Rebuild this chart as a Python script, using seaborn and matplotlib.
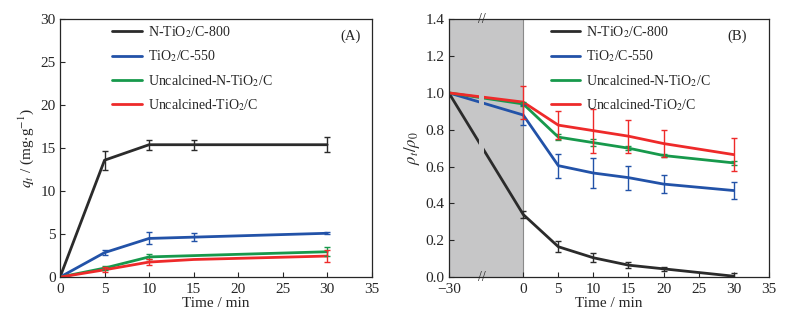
import numpy as np
import pandas as pd
import matplotlib
matplotlib.use("Agg")
import matplotlib.pyplot as plt
import matplotlib.transforms as mtransforms
import seaborn as sns

sns.set_style("ticks")
plt.rcParams.update({
    "font.family": ["Liberation Serif", "DejaVu Serif"],
    "mathtext.fontset": "stix",
    "font.size": 10.5,
    "axes.linewidth": 0.9,
    "xtick.direction": "in",
    "ytick.direction": "in",
    "xtick.major.size": 3.5,
    "ytick.major.size": 3.5,
})

SERIES = ["N-TiO$_2$/C-800", "TiO$_2$/C-550",
          "Uncalcined-N-TiO$_2$/C", "Uncalcined-TiO$_2$/C"]
COLORS = ["#2b2b2b", "#2252a8", "#17994c", "#ee2a2a"]
palette = dict(zip(SERIES, COLORS))

# (A) adsorption capacity
time_a = [0, 5, 10, 15, 30]
qt_black = [0, 13.6, 15.4, 15.4, 15.4]
qt_blue = [0, 2.85, 4.5, 4.65, 5.1]
qt_green = [0, 1.05, 2.35, 2.5, 2.95]
qt_red = [0, 0.85, 1.75, 2.05, 2.45]
qt_err_black = [0, 1.1, 0.6, 0.6, 0.9]
qt_err_blue = [0, 0.25, 0.7, 0.45, 0.1]
qt_err_green = [0, 0.2, 0.3, 0.0, 0.5]
qt_err_red = [0, 0.3, 0.3, 0.0, 0.7]

# (B) relative concentration
time_b = [-30, 0, 5, 10, 15, 20, 30]
rho_black = [1.0, 0.34, 0.165, 0.105, 0.065, 0.045, 0.005]
rho_blue = [1.0, 0.88, 0.605, 0.565, 0.54, 0.505, 0.47]
rho_green = [1.0, 0.94, 0.76, 0.73, 0.70, 0.66, 0.62]
rho_red = [1.0, 0.95, 0.825, 0.795, 0.765, 0.725, 0.665]
rho_err_black = [0, 0.02, 0.03, 0.025, 0.015, 0.012, 0.02]
rho_err_blue = [0, 0.055, 0.065, 0.08, 0.065, 0.05, 0.045]
rho_err_green = [0, 0.01, 0.015, 0.02, 0.01, 0.01, 0.01]
rho_err_red = [0, 0.09, 0.075, 0.12, 0.09, 0.075, 0.09]


def long_frame(x, ys, errs):
    rows = []
    for name, y, e in zip(SERIES, ys, errs):
        for xi, yi, ei in zip(x, y, e):
            rows.append({"time": xi, "value": yi, "err": ei, "series": name})
    return pd.DataFrame(rows)


df_a = long_frame(time_a, [qt_black, qt_blue, qt_green, qt_red],
                  [qt_err_black, qt_err_blue, qt_err_green, qt_err_red])
df_b = long_frame(time_b, [rho_black, rho_blue, rho_green, rho_red],
                  [rho_err_black, rho_err_blue, rho_err_green, rho_err_red])

fig = plt.figure(figsize=(7.93, 3.2), dpi=100)
ax_a = fig.add_axes([0.0757, 0.134, 0.393, 0.806])
ax_b = fig.add_axes([0.566, 0.134, 0.4035, 0.806])

# compressed dark period on the right panel
K = 10.6 / 30.0


def fwd(x):
    x = np.asarray(x, dtype=float)
    return np.where(x < 0, x * K, x)


def inv(x):
    x = np.asarray(x, dtype=float)
    return np.where(x < 0, x / K, x)


ax_b.set_xscale("function", functions=(fwd, inv))
ax_b.axvspan(-30, 0, color="#c6c6c7", zorder=0, lw=0)
ax_b.axvline(0, color="#8a8a8a", lw=0.8, zorder=0.5)

for ax, df in [(ax_a, df_a), (ax_b, df_b)]:
    sns.lineplot(data=df, x="time", y="value", hue="series", hue_order=SERIES,
                 palette=palette, lw=2.0, ax=ax, zorder=3)
    for name in SERIES:
        sub = df[df["series"] == name]
        sub = sub[sub["err"] > 0]
        ax.errorbar(sub["time"], sub["value"], yerr=sub["err"], fmt="none",
                    ecolor=palette[name], elinewidth=1.0, capsize=2.5,
                    capthick=1.0, zorder=4)
    ax.legend(loc="upper left",
              bbox_to_anchor=(0.128, 1.03) if ax is ax_a else (0.28, 1.03),
              frameon=False, handlelength=2.1, labelspacing=0.62,
              handletextpad=0.45, fontsize=10)
    ax.set_xlabel("Time / min", labelpad=1, fontsize=11)

# gap in the lines at the axis break
ax_b.fill_between([-17.7, -15.7], 0.5, 1.08, color="#c6c6c7", lw=0, zorder=5)
tr = mtransforms.blended_transform_factory(ax_b.transData, ax_b.transAxes)
for yy in (0, 1):
    ax_b.text(-16.7, yy, "//", transform=tr, ha="center", va="center",
              fontsize=10, zorder=10, clip_on=False)

ax_a.set_xlim(0, 35)
ax_a.set_ylim(0, 30)
ax_a.set_xticks(range(0, 36, 5))
ax_a.set_yticks(range(0, 31, 5))
ax_a.set_ylabel("$q_t$ / (mg$\\cdot$g$^{-1}$)", labelpad=3, fontsize=11)
ax_a.text(0.965, 0.935, "(A)", transform=ax_a.transAxes, ha="right", va="center")

ax_b.set_xlim(-30, 35)
ax_b.set_ylim(0, 1.4)
ax_b.set_xticks([-30, 0, 5, 10, 15, 20, 25, 30, 35])
ax_b.set_xticklabels(["\u221230", "0", "5", "10", "15", "20", "25", "30", "35"])
ax_b.set_yticks(np.arange(0, 1.41, 0.2))
ax_b.set_yticklabels([f"{v:.1f}" for v in np.arange(0, 1.41, 0.2)])
ax_b.set_ylabel("$\\rho_t/\\rho_0$", labelpad=3, fontsize=12)
ax_b.text(0.93, 0.935, "(B)", transform=ax_b.transAxes, ha="right", va="center")

for ax in (ax_a, ax_b):
    ax.tick_params(top=False, right=False, labelsize=11)
    ax.tick_params(axis="x", pad=4)
    ax.tick_params(axis="y", pad=3)
    for s in ax.spines.values():
        s.set_visible(True)
        s.set_zorder(6)

fig.savefig("out.png", dpi=100)
